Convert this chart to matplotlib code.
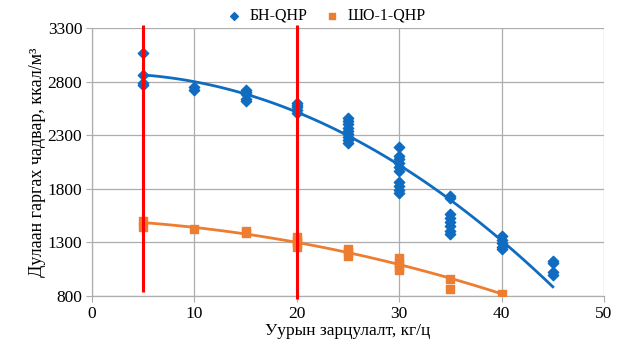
import numpy as np
import matplotlib
matplotlib.use("Agg")
import matplotlib.pyplot as plt

plt.rcParams["font.family"] = ["Liberation Serif", "DejaVu Serif"]

# БН-QHP measurements (x = steam flow, y = heat output)
bn_x = [5, 5, 5, 5, 10, 10, 15, 15, 15, 15, 15,
        20, 20, 20, 20, 20,
        25, 25, 25, 25, 25, 25, 25, 25, 25,
        30, 30, 30, 30, 30, 30, 30, 30, 30, 30,
        35, 35, 35, 35, 35, 35, 35, 35,
        40, 40, 40, 40, 40,
        45, 45, 45, 45]
bn_y = [3070, 2860, 2790, 2770, 2745, 2725, 2720, 2700, 2680, 2640, 2620,
        2600, 2580, 2560, 2535, 2510,
        2460, 2430, 2400, 2370, 2340, 2310, 2280, 2255, 2230,
        2190, 2110, 2080, 2040, 2000, 1970, 1860, 1830, 1790, 1760,
        1730, 1710, 1565, 1530, 1490, 1450, 1410, 1380,
        1360, 1320, 1290, 1260, 1240,
        1130, 1110, 1020, 1000]

# ШО-1-QHP measurements
sho_x = [5, 5, 10, 15, 15, 20, 20, 20, 20, 25, 25, 25, 30, 30, 30, 30, 35, 35, 40]
sho_y = [1500, 1440, 1425, 1405, 1390, 1350, 1320, 1290, 1260,
         1240, 1210, 1170, 1150, 1110, 1070, 1040, 960, 865, 822]

# polynomial trendline coefficients (x^2, x, 1)
bn_trend = [-1.0525, 3.225, 2872]
sho_trend = [-0.333, -4.0, 1513]
bn_range = [5, 45]
sho_range = [5, 40]

# red marker lines
red_x = [5, 20]
red_bottom = [840, 775]
red_top = [3330, 3330]

blue = "#0F6CC0"
orange = "#ED7D31"
grid_c = "#ADADAD"

fig = plt.figure(figsize=(6.19, 3.49), dpi=100)
ax = fig.add_axes([0.1486, 0.1519, 0.8272, 0.7679])

xb = np.linspace(bn_range[0], bn_range[1], 100)
xs = np.linspace(sho_range[0], sho_range[1], 100)
ax.plot(xb, np.polyval(bn_trend, xb), color=blue, lw=2, zorder=3)
ax.plot(xs, np.polyval(sho_trend, xs), color=orange, lw=2, zorder=3)

ax.scatter(bn_x, bn_y, marker="D", s=28, color=blue, zorder=4, label="БН-QHP")
ax.scatter(sho_x, sho_y, marker="s", s=32, color=orange, zorder=4, label="ШО-1-QHP")

ax.vlines(red_x, red_bottom, red_top, colors="#FF0000", lw=2.2, zorder=5, clip_on=False)

ax.set_xlim(0, 50)
ax.set_ylim(800, 3300)
ax.set_xticks(np.arange(0, 51, 10))
ax.set_yticks(np.arange(800, 3301, 500))
ax.grid(True, color=grid_c, lw=0.9)
ax.set_axisbelow(True)
for s in ["top", "right"]:
    ax.spines[s].set_visible(False)
for s in ["left", "bottom"]:
    ax.spines[s].set_color(grid_c)
    ax.spines[s].set_linewidth(0.9)
ax.tick_params(length=4, color=grid_c, labelsize=12.5, pad=3)

ax.set_xlabel("Уурын зарцулалт, кг/ц", fontsize=12.5, labelpad=1)
ax.set_ylabel("Дулаан гаргах чадвар, ккал/м³", fontsize=13, labelpad=1)

fig.legend(loc="center", bbox_to_anchor=(0.52, 0.955), ncol=2, frameon=False,
           fontsize=11.5, handletextpad=0.0, columnspacing=0.5, markerscale=0.75)

fig.savefig("out.png", dpi=100)
